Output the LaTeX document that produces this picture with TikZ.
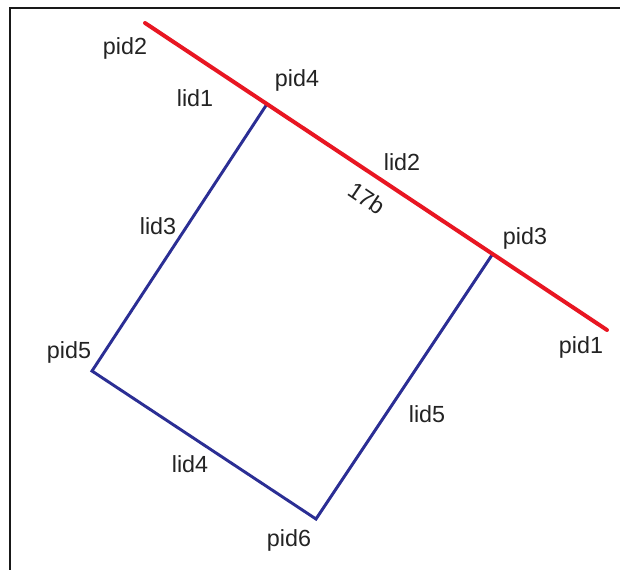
\documentclass[tikz,border=0pt]{standalone}
\usepackage{fontspec}
\setmainfont{Liberation Sans}
\definecolor{redln}{RGB}{232,22,34}
\definecolor{blueln}{RGB}{43,46,148}
\definecolor{txt}{RGB}{35,35,35}
\begin{document}
\begin{tikzpicture}[x=0.75pt,y=-0.75pt,
  lbl/.style={font=\fontsize{17.5}{19}\selectfont,text=txt,inner sep=0pt},
  redseg/.style={draw=redln,line width=3pt,line cap=round},
  blueseg/.style={draw=blueln,line width=2.2pt,line join=miter}]
\useasboundingbox (0,0) rectangle (620,570);
\fill[white] (0,0) rectangle (620,570);
\draw[line width=1.6pt,color=black!90] (10,572) -- (10,8) -- (622,8);
% points
\coordinate (p2) at (145,23);
\coordinate (p1) at (607,330);
\coordinate (p4) at (267,104);
\coordinate (p3) at (492,255);
\coordinate (p5) at (92,371);
\coordinate (p6) at (316,519);
% lines
\draw[blueseg] (p4) -- (p5) -- (p6) -- (p3);
\draw[redseg] (p2) -- (p1);
% labels
\node[lbl] (tp2) at (125,48) {pid2};
\node[lbl] (tl1) at (195,98) {lid1};
\node[lbl] (tp4) at (297,80) {pid4};
\node[lbl] (tl2) at (402,162) {lid2};
\node[lbl,rotate=-34] (t17) at (367,198) {17b};
\node[lbl] (tp3) at (525,238) {pid3};
\node[lbl] (tp1) at (581,347) {pid1};
\node[lbl] (tl3) at (158,226) {lid3};
\node[lbl] (tp5) at (69,352) {pid5};
\node[lbl] (tl5) at (427,414) {lid5};
\node[lbl] (tl4) at (190,464) {lid4};
\node[lbl] (tp6) at (289,540) {pid6};
\end{tikzpicture}
\end{document}
